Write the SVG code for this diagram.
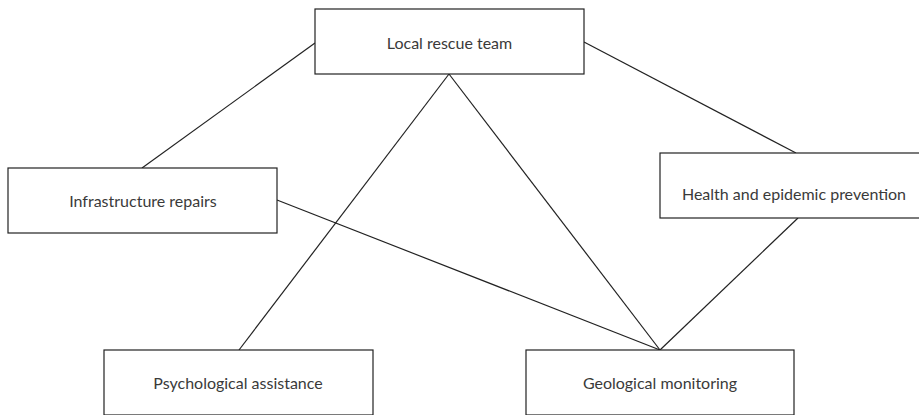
<svg xmlns="http://www.w3.org/2000/svg" width="919" height="415" viewBox="0 0 919 415">
<style>
.box{fill:#fff;stroke:#222;stroke-width:1.2}
.lbl{font-family:Lato,"Noto Sans",sans-serif;font-size:16px;fill:#3a3a3a;text-anchor:middle;dominant-baseline:central}
.edge{stroke:#222;stroke-width:1.2;fill:none}
</style>
<rect width="919" height="415" fill="#fff"/>
<g id="connectors">
<line class="edge" x1="315" y1="43" x2="142" y2="168"/>
<line class="edge" x1="584" y1="42" x2="796" y2="153"/>
<line class="edge" x1="449" y1="74" x2="239" y2="350"/>
<line class="edge" x1="449" y1="74" x2="660" y2="350"/>
<line class="edge" x1="277" y1="200" x2="660" y2="350"/>
<line class="edge" x1="798" y1="218" x2="660" y2="350"/>
</g>
<g id="local-rescue-team"><rect class="box" x="315" y="9" width="269" height="65"/><text class="lbl" x="449.5" y="42">Local rescue team</text></g>
<g id="infrastructure-repairs"><rect class="box" x="8" y="168" width="269" height="65"/><text class="lbl" x="143" y="200">Infrastructure repairs</text></g>
<g id="health"><rect class="box" x="660" y="153" width="269" height="65"/><text class="lbl" x="794" y="193">Health and epidemic prevention</text></g>
<g id="psychological-assistance"><rect class="box" x="104" y="350" width="269" height="65"/><text class="lbl" x="238" y="382">Psychological assistance</text></g>
<g id="geological-monitoring"><rect class="box" x="526" y="350" width="268" height="65"/><text class="lbl" x="660" y="382">Geological monitoring</text></g>
</svg>
